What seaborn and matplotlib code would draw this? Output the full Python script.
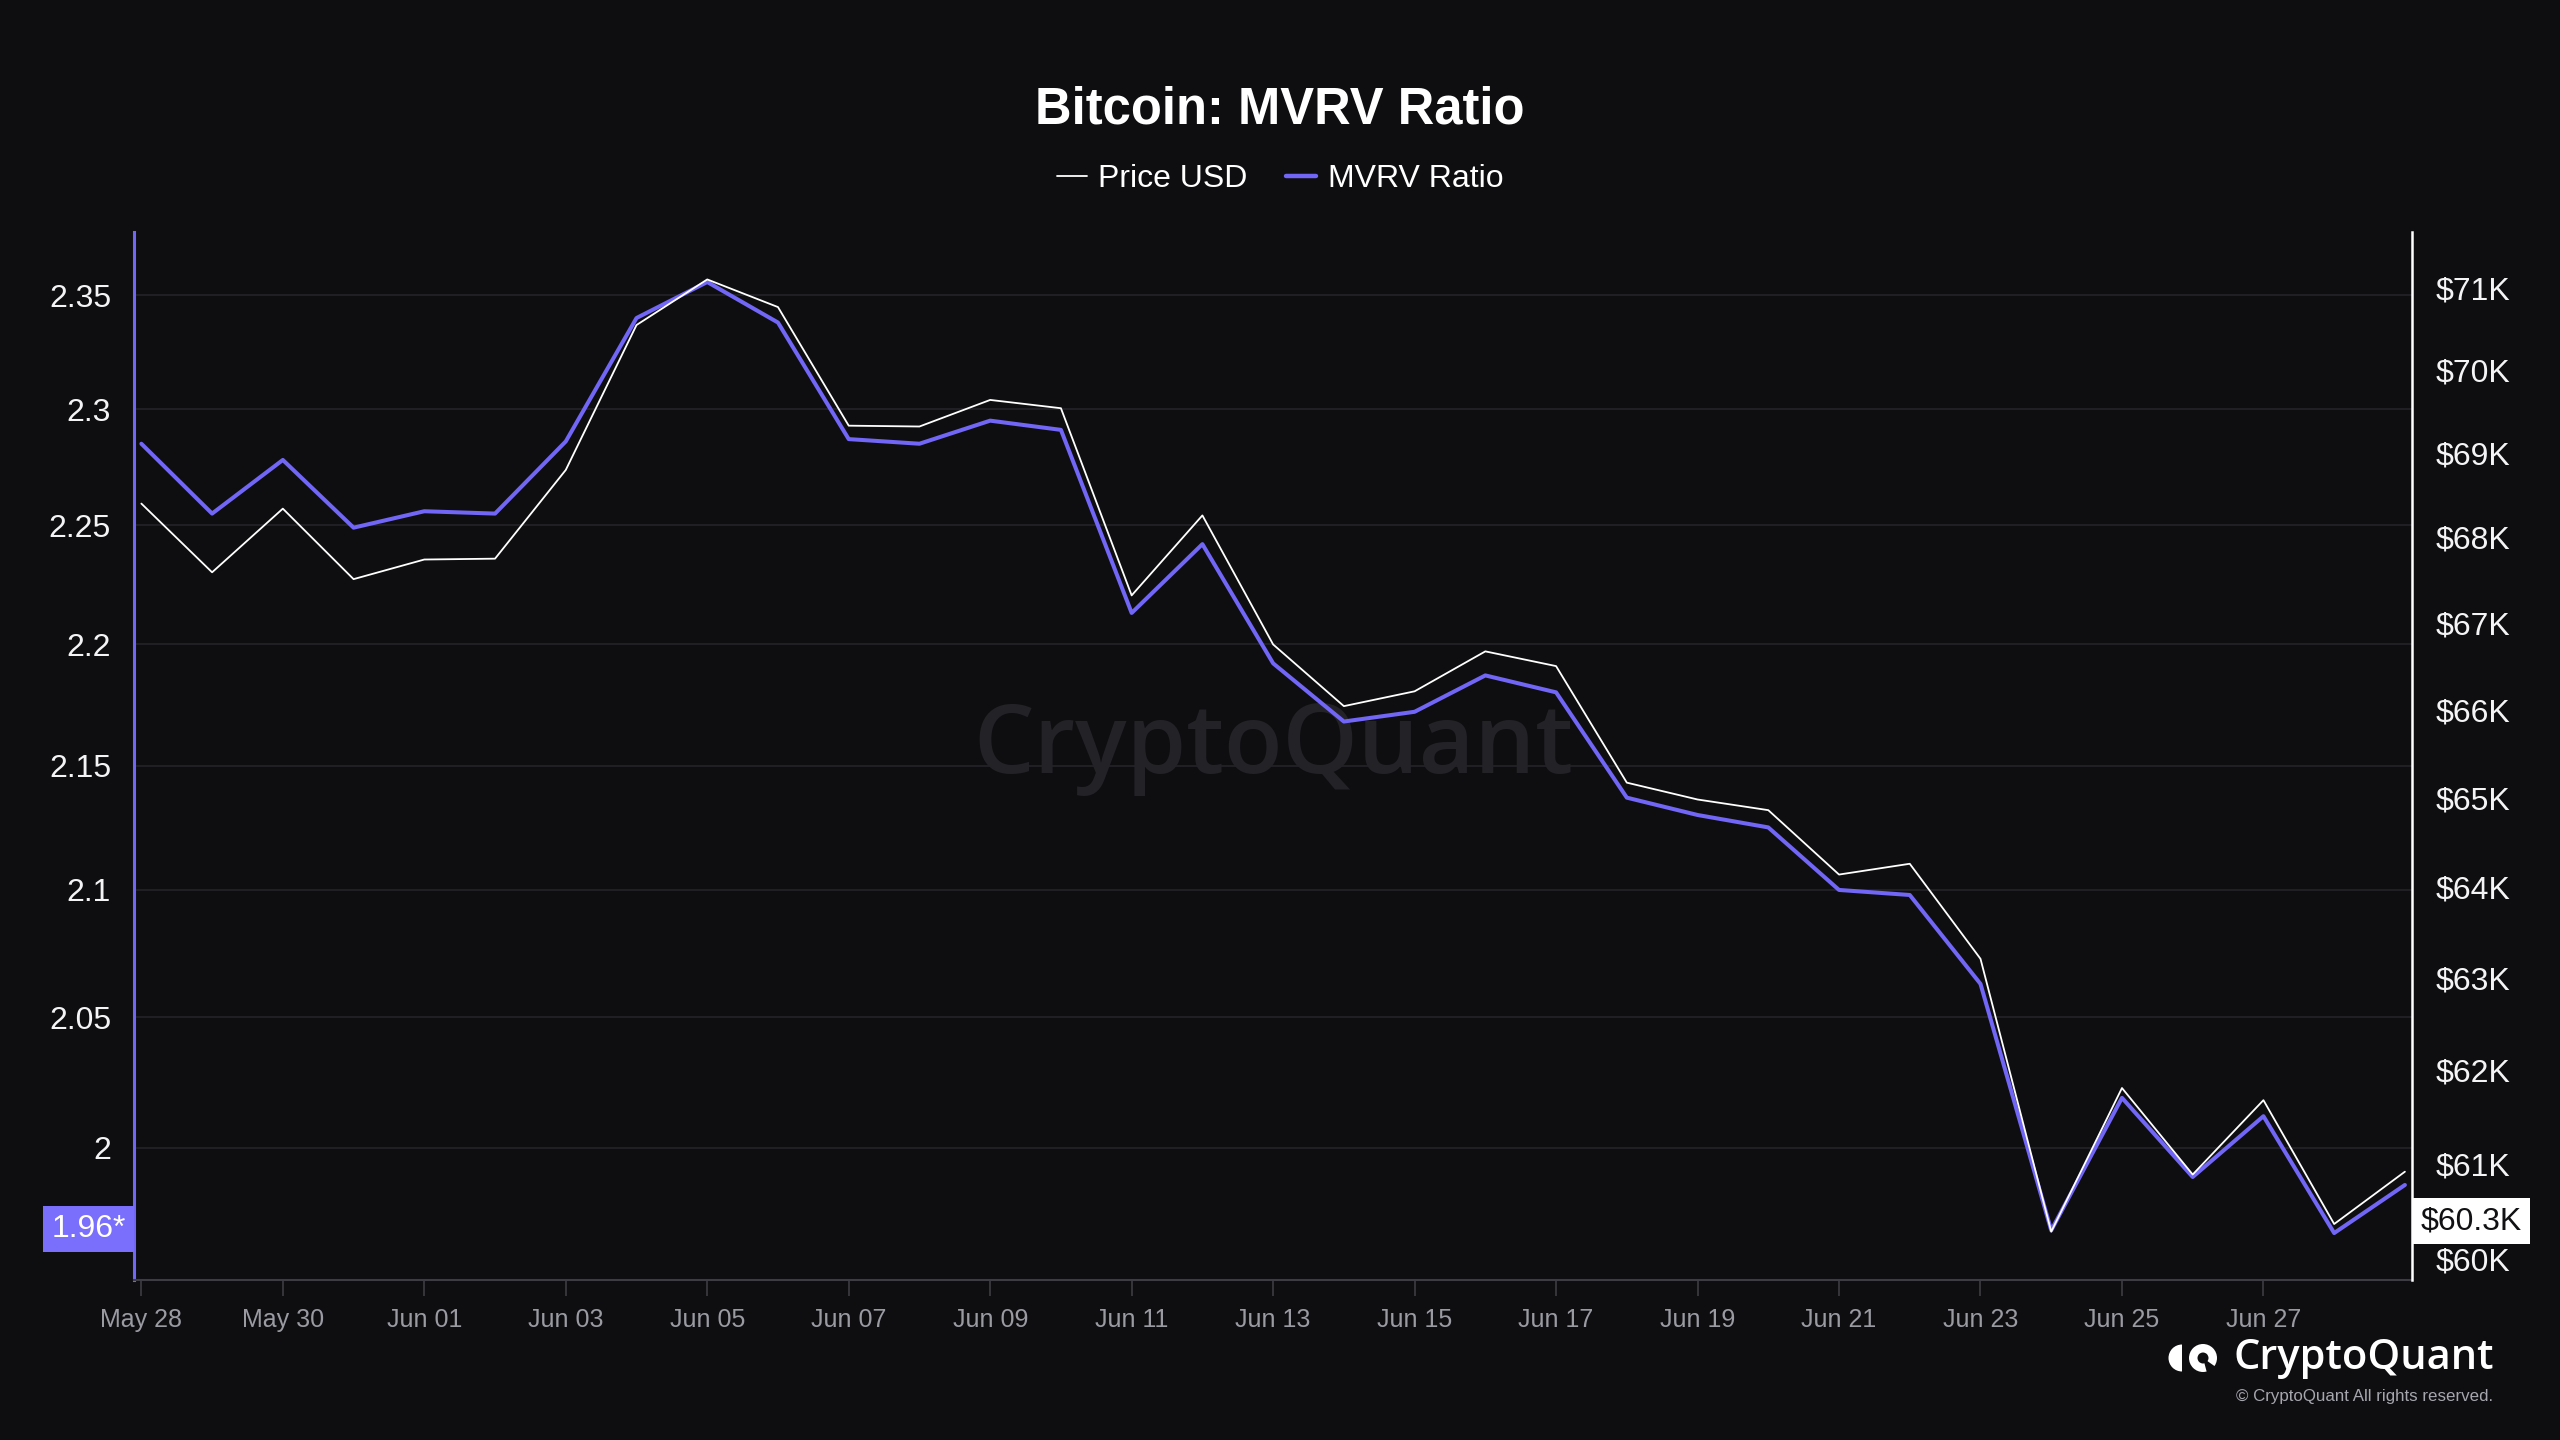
import numpy as np
import pandas as pd
import matplotlib
matplotlib.use("Agg")
import matplotlib.pyplot as plt
import matplotlib.dates as mdates
import matplotlib.ticker as mticker
from matplotlib import patches
from matplotlib.lines import Line2D
import seaborn as sns

# ---------------- data ----------------
dates = pd.date_range("2024-05-28", "2024-06-29", freq="D")

price_usd = [68400, 67590, 68340, 67510, 67740, 67750, 68800, 70550, 71110, 70770,
             69330, 69320, 69640, 69540, 67320, 68260, 66750, 66040, 66210, 66670,
             66500, 65170, 64980, 64860, 64140, 64260, 63210, 60290, 61810, 60890,
             61680, 60370, 60920]

mvrv_ratio = [2.285, 2.255, 2.278, 2.249, 2.256, 2.255, 2.286, 2.340, 2.356, 2.338,
              2.287, 2.285, 2.295, 2.291, 2.213, 2.242, 2.192, 2.168, 2.172, 2.187,
              2.180, 2.137, 2.130, 2.125, 2.100, 2.098, 2.063, 1.969, 2.019, 1.989,
              2.012, 1.968, 1.986]

mvrv_ticks = [2.0, 2.05, 2.1, 2.15, 2.2, 2.25, 2.3, 2.35]
mvrv_tick_labels = ["2", "2.05", "2.1", "2.15", "2.2", "2.25", "2.3", "2.35"]
price_ticks = [60000, 61000, 62000, 63000, 64000, 65000, 66000, 67000, 68000, 69000, 70000, 71000]
price_tick_labels = ["$60K", "$61K", "$62K", "$63K", "$64K", "$65K", "$66K", "$67K",
                     "$68K", "$69K", "$70K", "$71K"]
x_tick_dates = dates[0:32:2]

mvrv_limits = (1.9506, 2.3784)
price_limits = (59787, 71697)

latest_mvrv_label = "1.96*"
latest_mvrv_anchor = 1.9695
latest_price_label = "$60.3K"
latest_price_anchor = 60400

title = "Bitcoin: MVRV Ratio"
legend_labels = ["Price USD", "MVRV Ratio"]

# ---------------- style ----------------
BG = "#0e0e11"
PURPLE = "#7166f6"
BOX_PURPLE = "#7a6ffc"
GRID = "#232328"
AXIS_GRAY = "#3c3c42"

sns.set_theme(style="dark", rc={
    "figure.facecolor": BG,
    "axes.facecolor": BG,
    "savefig.facecolor": BG,
    "text.color": "white",
})
plt.rcParams["font.family"] = ["Liberation Sans", "DejaVu Sans"]

df = pd.DataFrame({"date": dates, "mvrv": mvrv_ratio, "price": price_usd})

fig = plt.figure(figsize=(25.6, 14.4), dpi=100, facecolor=BG)
ax = fig.add_axes([0.05234, 0.11111, 0.88984, 0.72778])
ax.set_facecolor(BG)

sns.lineplot(data=df, x="date", y="mvrv", ax=ax, color=PURPLE, linewidth=2.9,
             legend=False, zorder=3)
ax2 = ax.twinx()
sns.lineplot(data=df, x="date", y="price", ax=ax2, color="white", linewidth=1.3,
             legend=False, zorder=3)

# scales
ax.set_yscale("log")
ax2.set_yscale("log")
ax.set_ylim(*mvrv_limits)
ax2.set_ylim(*price_limits)
ax.yaxis.set_major_locator(mticker.FixedLocator(mvrv_ticks))
ax.yaxis.set_major_formatter(mticker.FixedFormatter(mvrv_tick_labels))
ax.yaxis.set_minor_locator(mticker.NullLocator())
ax.yaxis.set_minor_formatter(mticker.NullFormatter())
ax2.yaxis.set_major_locator(mticker.FixedLocator(price_ticks))
ax2.yaxis.set_major_formatter(mticker.FixedFormatter(price_tick_labels))
ax2.yaxis.set_minor_locator(mticker.NullLocator())
ax2.yaxis.set_minor_formatter(mticker.NullFormatter())

x0 = mdates.date2num(dates[0] - pd.Timedelta(hours=2.5))
x1 = mdates.date2num(dates[-1] + pd.Timedelta(hours=2.4))
ax.set_xlim(x0, x1)
ax.xaxis.set_major_locator(mticker.FixedLocator(mdates.date2num(x_tick_dates)))
ax.xaxis.set_major_formatter(mdates.DateFormatter("%b %d"))
ax.xaxis.set_minor_locator(mticker.NullLocator())

for a in (ax, ax2):
    a.set_xlabel("")
    a.set_ylabel("")

# grid
ax.yaxis.grid(True, color=GRID, linewidth=1.2)
ax.xaxis.grid(False)
ax2.grid(False)
ax.set_axisbelow(True)

# ticks
ax.tick_params(axis="y", which="both", length=0, pad=16.5, labelsize=23, labelcolor="#f4f4f6")
ax2.tick_params(axis="y", which="both", length=0, pad=17, labelsize=23, labelcolor="#f4f4f6")
ax.tick_params(axis="x", which="major", length=11.5, width=1.2, color=AXIS_GRAY,
               pad=9, labelsize=18, labelcolor="#9a9aa3", bottom=True)

# spines
for s in ("top", "right"):
    ax.spines[s].set_visible(False)
ax.spines["left"].set_color(PURPLE)
ax.spines["left"].set_linewidth(2.2)
ax.spines["bottom"].set_color(AXIS_GRAY)
ax.spines["bottom"].set_linewidth(1.5)
for s in ("top", "left", "bottom"):
    ax2.spines[s].set_visible(False)
ax2.spines["right"].set_color("white")
ax2.spines["right"].set_linewidth(1.8)

# watermark
ax.text(0.5, 0.508, "CryptoQuant", transform=ax.transAxes, ha="center", va="center",
        fontsize=69, color="#222227", family=["Open Sans", "DejaVu Sans"],
        fontweight="semibold", zorder=0.5)

# latest value boxes
ax.annotate(latest_mvrv_label, xy=(0, latest_mvrv_anchor), xycoords=("axes fraction", "data"),
            xytext=(-6, 0), textcoords="offset points", ha="right", va="center",
            fontsize=23, color="white", annotation_clip=False, zorder=10,
            bbox=dict(boxstyle="square,pad=0.25", fc=BOX_PURPLE, ec="none"))
ax2.annotate(latest_price_label, xy=(1, latest_price_anchor), xycoords=("axes fraction", "data"),
             xytext=(6, 0), textcoords="offset points", ha="left", va="center",
             fontsize=23, color="#111114", annotation_clip=False, zorder=10,
             bbox=dict(boxstyle="square,pad=0.25", fc="white", ec="none"))

# title and legend
fig.text(0.5, 1 - 109.5 / 1440, title, ha="center", va="center", fontsize=36.5,
         fontweight="bold", color="white")
handles = [Line2D([], [], color="white", linewidth=1.3),
           Line2D([], [], color=PURPLE, linewidth=3.2)]
fig.legend(handles=handles, labels=legend_labels, loc="center",
           bbox_to_anchor=(0.5, 1 - 179 / 1440), ncol=2, frameon=False, fontsize=23,
           handlelength=0.95, handletextpad=0.35, columnspacing=1.2, labelcolor="white")

# bottom-right logo
T = fig.dpi_scale_trans
def px(x, y):
    return (x / 100.0, (1440 - y) / 100.0)

fig.add_artist(patches.Wedge(px(2182, 1358), 0.135, 90, 270, transform=T,
                             facecolor="white", edgecolor="none"))
fig.add_artist(patches.Circle(px(2203, 1358), 0.14, transform=T,
                              facecolor="white", edgecolor="none"))
fig.add_artist(patches.Wedge(px(2203, 1358), 0.155, -75, -35, transform=T,
                             facecolor=BG, edgecolor="none"))
fig.add_artist(patches.Circle(px(2203, 1358), 0.055, transform=T,
                              facecolor=BG, edgecolor="none"))
fig.text(2233 / 2560, 1 - 1358 / 1440, "CryptoQuant", ha="left", va="center",
         fontsize=30, color="white", family=["Open Sans", "DejaVu Sans"], fontweight="semibold")
fig.text(2493 / 2560, 1 - 1396 / 1440, "© CryptoQuant All rights reserved.", ha="right",
         va="center", fontsize=12.2, color="#a6a6ae")

fig.savefig("out.png", dpi=100, facecolor=BG)
